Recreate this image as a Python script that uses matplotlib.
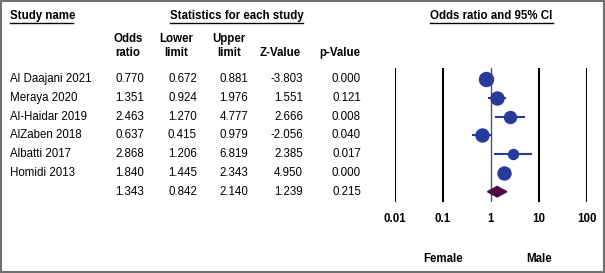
"""
Forest plot: odds ratio of female vs male, six studies plus pooled estimate.
"""
import matplotlib
matplotlib.use('Agg')
import matplotlib.pyplot as plt
from matplotlib.transforms import blended_transform_factory

plt.rcParams['font.family'] = ['Liberation Sans', 'DejaVu Sans']

studies = ['Al Daajani 2021', 'Meraya 2020', 'Al-Haidar 2019', 'AlZaben 2018',
           'Albatti 2017', 'Homidi 2013', '']
odds_ratio = [0.770, 1.351, 2.463, 0.637, 2.868, 1.840, 1.343]
lower = [0.672, 0.924, 1.270, 0.415, 1.206, 1.445, 0.842]
upper = [0.881, 1.976, 4.777, 0.979, 6.819, 2.343, 2.140]
z_value = [-3.803, 1.551, 2.666, -2.056, 2.385, 4.950, 1.239]
p_value = [0.000, 0.121, 0.008, 0.040, 0.017, 0.000, 0.215]
ticks = [0.01, 0.1, 1, 10, 100]
tick_labels = ['0.01', '0.1', '1', '10', '100']
marker_px = [14, 13, 12, 13, 10, 13]

W, H = 605, 273
fig = plt.figure(figsize=(W / 100, H / 100), dpi=100)
fig.patch.set_facecolor('white')


def fx(px):
    return px / W


def fy(py):
    return 1 - py / H


FS = 8.3
BLUE = '#283a9c'
DIAMOND = '#4a0c44'

###############################################################################
# forest panel
ax = fig.add_axes([fx(395), fy(202), fx(587) - fx(395), (202 - 68) / H])
ax.set_xscale('log')
ax.set_xlim(0.01, 100)
row_h = 18.78
ax.set_ylim((202 - 79) / row_h, (68 - 79) / row_h)
for s in ax.spines.values():
    s.set_visible(False)
ax.set_yticks([])
for t in ticks:
    if t == 1:
        ax.axvline(t, color='#555555', lw=1.0, zorder=1)
    else:
        ax.axvline(t, color='black', lw=1.5, zorder=1)
ax.set_xticks(ticks)
ax.set_xticklabels(tick_labels, fontweight='bold', fontsize=FS)
ax.tick_params(axis='x', length=0, pad=8)
ax.minorticks_off()

n = len(studies) - 1
for i in range(n):
    ax.plot([lower[i], upper[i]], [i, i], color=BLUE, lw=1.5, zorder=2)
    ax.plot(odds_ratio[i], i, 'o', color=BLUE, ms=marker_px[i] * 0.72,
            mec=BLUE, zorder=3)

# pooled diamond
d = 0.28
ax.fill([lower[n], odds_ratio[n], upper[n], odds_ratio[n]],
        [n, n - d, n, n + d], color=DIAMOND, zorder=3)

trans_f = blended_transform_factory(ax.transData, fig.transFigure)
ax.text(0.1, fy(259), 'Female', transform=trans_f, ha='center', va='center',
        fontweight='bold', fontsize=FS)
ax.text(10, fy(259), 'Male', transform=trans_f, ha='center', va='center',
        fontweight='bold', fontsize=FS)

###############################################################################
# table text
trans_row = blended_transform_factory(fig.transFigure, ax.transData)
cols = [(144, odds_ratio), (197, lower), (248, upper), (303, z_value),
        (361, p_value)]
for i, name in enumerate(studies):
    fig.text(fx(10), i, name, transform=trans_row, ha='left', va='center',
             fontsize=FS)
    for xpx, vals in cols:
        fig.text(fx(xpx), i, '%.3f' % vals[i], transform=trans_row,
                 ha='right', va='center', fontsize=FS)

head_top = [(128, 'Odds'), (176.5, 'Lower'), (229, 'Upper')]
head_bot = [(128, 'ratio'), (176.5, 'limit'), (229, 'limit'),
            (280, 'Z-Value'), (340, 'p-Value')]
for xpx, lab in head_top:
    fig.text(fx(xpx), fy(39), lab, ha='center', va='center', fontsize=FS,
             fontweight='bold')
for xpx, lab in head_bot:
    fig.text(fx(xpx), fy(53), lab, ha='center', va='center', fontsize=FS,
             fontweight='bold')

titles = [(10, 73, 'Study name', 'left'),
          (170, 303, 'Statistics for each study', 'center'),
          (430, 553, 'Odds ratio and 95% CI', 'center')]
for x0, x1, lab, ha in titles:
    xt = x0 if ha == 'left' else (x0 + x1) / 2
    fig.text(fx(xt), fy(16), lab, ha=ha, va='center', fontsize=FS,
             fontweight='bold')
    fig.add_artist(plt.Line2D([fx(x0), fx(x1)], [fy(22.5), fy(22.5)],
                              color='black', lw=1.0))

# outer frame
fig.add_artist(plt.Rectangle((fx(0.5), fy(272)), fx(604) - fx(0.5),
                             (272 - 1) / H, fill=False, ec='#707070',
                             lw=1.5, transform=fig.transFigure))

fig.savefig('out.png', dpi=100)
